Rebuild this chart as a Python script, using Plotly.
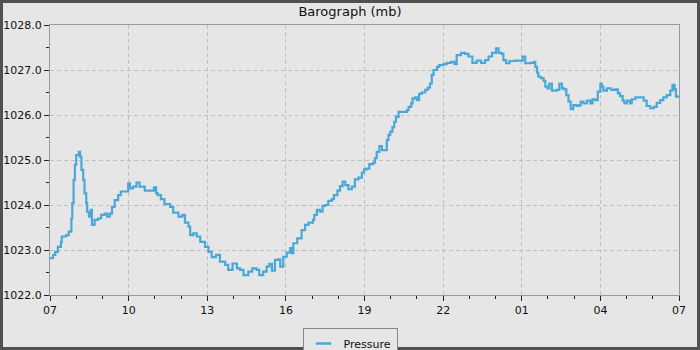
import pandas as pd
import plotly.graph_objects as go

# minutes since 07:00 on the first day
minutes = [0, 7, 12, 18, 25, 27, 37, 43, 47, 49, 51, 54, 57, 60, 66, 69, 72, 76, 79, 83,
           85, 89, 93, 96, 102, 110, 117, 125, 131, 137, 142, 148, 156, 162, 171, 179, 183, 190, 198, 205,
           217, 232, 238, 243, 247, 254, 262, 275, 282, 294, 303, 309, 317, 321, 328, 336, 344, 355, 363, 370,
           380, 389, 401, 408, 418, 428, 435, 443, 454, 463, 473, 479, 488, 496, 502, 508, 515, 523, 527, 534,
           542, 550, 553, 557, 566, 576, 584, 592, 602, 605, 611, 618, 624, 630, 637, 645, 650, 658, 664, 670,
           676, 683, 691, 698, 706, 714, 719, 725, 731, 740, 744, 748, 754, 760, 767, 771, 775, 779, 784, 788,
           792, 798, 809, 817, 821, 827, 830, 836, 840, 845, 851, 859, 865, 870, 874, 878, 886, 891, 901, 908,
           918, 926, 931, 941, 950, 958, 967, 977, 987, 996, 1004, 1012, 1021, 1027, 1034, 1038, 1044, 1052, 1065, 1078,
           1082, 1088, 1099, 1108, 1111, 1115, 1118, 1124, 1130, 1134, 1139, 1143, 1149, 1160, 1166, 1172, 1177, 1182, 1187, 1192,
           1198, 1206, 1212, 1215, 1221, 1229, 1237, 1242, 1248, 1254, 1260, 1263, 1267, 1275, 1285, 1294, 1300, 1305, 1311, 1315,
           1321, 1328, 1332, 1340, 1351, 1359, 1366, 1374, 1382, 1389, 1397, 1404, 1412, 1420, 1425, 1430, 1433, 1440]

pressure = [1022.82, 1022.89, 1022.96, 1023.07, 1023.18, 1023.30, 1023.33, 1023.41, 1023.41, 1023.70,
            1024.04, 1024.56, 1024.89, 1025.11, 1025.18, 1025.07, 1024.78, 1024.56, 1024.26, 1024.04,
            1023.85, 1023.74, 1023.89, 1023.56, 1023.67, 1023.70, 1023.78, 1023.81, 1023.74, 1023.81,
            1023.96, 1024.11, 1024.22, 1024.30, 1024.30, 1024.48, 1024.37, 1024.41, 1024.50, 1024.41,
            1024.32, 1024.32, 1024.39, 1024.26, 1024.22, 1024.13, 1024.02, 1023.96, 1023.83, 1023.74,
            1023.78, 1023.61, 1023.52, 1023.33, 1023.37, 1023.30, 1023.18, 1023.07, 1022.96, 1022.84,
            1022.89, 1022.74, 1022.67, 1022.56, 1022.70, 1022.59, 1022.56, 1022.44, 1022.52, 1022.59,
            1022.56, 1022.44, 1022.52, 1022.63, 1022.69, 1022.54, 1022.78, 1022.79, 1022.63, 1022.85,
            1022.94, 1023.04, 1022.93, 1023.15, 1023.26, 1023.44, 1023.56, 1023.61, 1023.67, 1023.78,
            1023.89, 1023.85, 1023.98, 1024.00, 1024.09, 1024.13, 1024.22, 1024.32, 1024.42, 1024.52,
            1024.44, 1024.35, 1024.41, 1024.57, 1024.61, 1024.72, 1024.79, 1024.81, 1024.91, 1024.94,
            1025.04, 1025.18, 1025.31, 1025.22, 1025.22, 1025.44, 1025.56, 1025.63, 1025.73, 1025.85,
            1025.96, 1026.07, 1026.07, 1026.11, 1026.18, 1026.26, 1026.37, 1026.39, 1026.33, 1026.47,
            1026.50, 1026.56, 1026.61, 1026.70, 1026.89, 1027.00, 1027.07, 1027.11, 1027.13, 1027.16,
            1027.18, 1027.13, 1027.33, 1027.38, 1027.36, 1027.30, 1027.16, 1027.21, 1027.16, 1027.22,
            1027.30, 1027.38, 1027.48, 1027.38, 1027.36, 1027.22, 1027.15, 1027.20, 1027.21, 1027.21,
            1027.30, 1027.15, 1027.16, 1027.18, 1027.07, 1026.94, 1026.85, 1026.82, 1026.76, 1026.63,
            1026.59, 1026.70, 1026.54, 1026.56, 1026.70, 1026.59, 1026.57, 1026.44, 1026.30, 1026.13,
            1026.22, 1026.20, 1026.22, 1026.30, 1026.26, 1026.32, 1026.26, 1026.35, 1026.33, 1026.52,
            1026.69, 1026.63, 1026.54, 1026.59, 1026.56, 1026.57, 1026.48, 1026.42, 1026.32, 1026.26,
            1026.32, 1026.26, 1026.35, 1026.39, 1026.39, 1026.32, 1026.20, 1026.15, 1026.18, 1026.27,
            1026.33, 1026.39, 1026.44, 1026.54, 1026.67, 1026.57, 1026.41, 1026.41]

start = pd.Timestamp("2024-05-01 07:00")
end = pd.Timestamp("2024-05-02 07:00")
times = [start + pd.Timedelta(minutes=m) for m in minutes]

line_color = "#4aa8d9"
font = "DejaVu Sans"

fig = go.Figure()
fig.add_trace(go.Scatter(x=times, y=pressure, mode="lines", line=dict(color=line_color, width=2.2, shape="hv"),
                         name="Pressure", showlegend=False))
fig.add_trace(go.Scatter(x=[None], y=[None], mode="markers", name="Pressure",
                         marker=dict(symbol="line-ew-open", size=11, color=line_color,
                                     line=dict(color=line_color, width=2.5))))

fig.update_layout(
    width=700, height=350,
    margin=dict(l=50, r=21, t=25, b=55, autoexpand=False),
    paper_bgcolor="#e6e6e6", plot_bgcolor="#e6e6e6",
    font=dict(family=font, size=11, color="#111"),
    title=dict(text="Barograph (mb)", x=0.5, xanchor="center", xref="container",
               y=1 - 11 / 350, yanchor="middle", yref="container",
               font=dict(family=font, size=13, color="#111")),
    legend=dict(orientation="h", xref="container", x=0.5, xanchor="center",
                yref="container", y=1 - 328 / 350, yanchor="top",
                bgcolor="#e6e6e6", bordercolor="#888", borderwidth=1,
                font=dict(family=font, size=11, color="#111"), itemwidth=30),
    shapes=[dict(type="rect", xref="paper", yref="paper",
                 x0=-48.5 / 629, x1=648.5 / 629, y0=-53.5 / 270, y1=293.5 / 270,
                 line=dict(color="#505050", width=3), fillcolor="rgba(0,0,0,0)", layer="above")],
)

fig.update_xaxes(
    type="date", range=[start, end], tick0=start, dtick=3 * 3600 * 1000, tickformat="%H",
    showline=True, linecolor="#999", linewidth=1, mirror=True, automargin=False,
    showgrid=True, gridcolor="#c0c0c0", griddash="4px,3px", gridwidth=1,
    ticks="outside", ticklen=5, tickcolor="#222", zeroline=False,
    minor=dict(dtick=3600 * 1000, ticks="outside", ticklen=3, tickcolor="#222", showgrid=False),
    tickfont=dict(family=font, size=11, color="#111"),
)
fig.update_yaxes(
    range=[1022, 1028], dtick=1, tickformat=".1f",
    showline=True, linecolor="#999", linewidth=1, mirror=True, automargin=False,
    showgrid=True, gridcolor="#c0c0c0", griddash="4px,3px", gridwidth=1,
    ticks="outside", ticklen=5, tickcolor="#222", zeroline=False,
    minor=dict(dtick=0.5, ticks="outside", ticklen=3, tickcolor="#222", showgrid=False),
    tickfont=dict(family=font, size=11, color="#111"),
)

fig.write_html("out.html", config={"displayModeBar": False},
               post_script="document.body.style.margin='0';")
